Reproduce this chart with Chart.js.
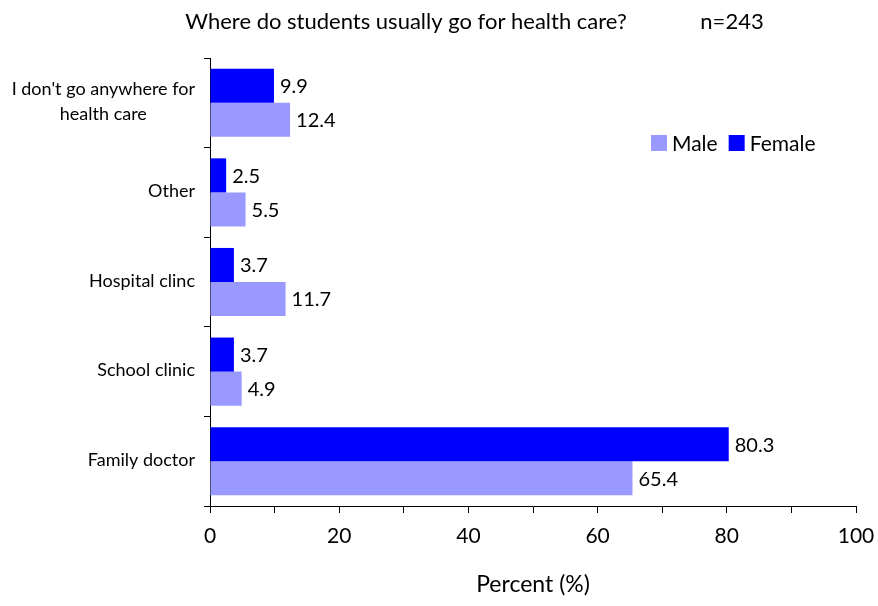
<!DOCTYPE html>
<html lang="en">
<head>
    <meta charset="UTF-8">
    <title>Health care</title>
    <script src="https://cdn.jsdelivr.net/npm/chart.js"></script>
    <style>
        body { margin: 0; padding: 0; background: #fff; }
        #wrap { width: 878px; height: 606px; position: relative; }
    </style>
</head>
<body>
    <div id="wrap"><canvas id="chart"></canvas></div>

    <script>
        // Data
        const categories = [
            ["I don't go anywhere for", "health care"],
            "Other",
            "Hospital clinc",
            "School clinic",
            "Family doctor"
        ];
        const femaleValues = [9.9, 2.5, 3.7, 3.7, 80.3];
        const maleValues = [12.4, 5.5, 11.7, 4.9, 65.4];
        const xTicks = [0, 20, 40, 60, 80, 100];

        const FONT = "Lato, 'Open Sans', sans-serif";

        // Bar value labels
        const valueLabels = {
            id: 'valueLabels',
            afterDatasetsDraw(chart) {
                const ctx = chart.ctx;
                ctx.save();
                ctx.font = "20px " + FONT;
                ctx.fillStyle = "#000";
                ctx.textBaseline = "middle";
                ctx.textAlign = "left";
                chart.data.datasets.forEach((ds, i) => {
                    chart.getDatasetMeta(i).data.forEach((bar, j) => {
                        ctx.fillText(ds.data[j].toFixed(1), bar.x + 6, bar.y + 1);
                    });
                });
                ctx.restore();
            }
        };

        // Category labels: right aligned block, lines centred inside it
        const catLabels = {
            id: 'catLabels',
            afterDraw(chart) {
                const ctx = chart.ctx;
                const yScale = chart.scales.y;
                const right = yScale.right - 15;
                ctx.save();
                ctx.font = "18px " + FONT;
                ctx.fillStyle = "#000";
                ctx.textBaseline = "middle";
                ctx.textAlign = "center";
                categories.forEach((lab, i) => {
                    const lines = Array.isArray(lab) ? lab : [lab];
                    const w = Math.max(...lines.map(l => ctx.measureText(l).width));
                    const cx = right - w / 2;
                    const cy = yScale.getPixelForTick(i);
                    const lh = 25;
                    lines.forEach((l, k) => {
                        ctx.fillText(l, cx, cy + (k - (lines.length - 1) / 2) * lh - 1);
                    });
                });
                ctx.restore();
            }
        };

        // Title and legend drawn by hand
        const extras = {
            id: 'extras',
            afterDraw(chart) {
                const ctx = chart.ctx;
                ctx.save();
                ctx.fillStyle = "#000";
                ctx.textBaseline = "middle";
                ctx.font = "22px " + FONT;
                ctx.textAlign = "center";
                ctx.fillText("Where do students usually go for health care?", 406, 22);
                ctx.fillText("n=243", 732, 22);

                // legend: Male then Female
                const items = [chart.data.datasets[1], chart.data.datasets[0]];
                let x = 651;
                ctx.font = "21px " + FONT;
                ctx.textAlign = "left";
                items.forEach(ds => {
                    ctx.fillStyle = ds.backgroundColor;
                    ctx.fillRect(x, 135, 16, 16);
                    ctx.fillStyle = "#000";
                    ctx.fillText(ds.label, x + 21, 144);
                    x += 21 + ctx.measureText(ds.label).width + 11;
                });
                ctx.restore();
            }
        };

        new Chart(document.getElementById("chart"), {
            type: 'bar',
            data: {
                labels: categories,
                datasets: [
                    {
                        label: 'Female',
                        data: femaleValues,
                        backgroundColor: '#0000FF',
                        categoryPercentage: 0.76,
                        barPercentage: 1.0
                    },
                    {
                        label: 'Male',
                        data: maleValues,
                        backgroundColor: '#9999FF',
                        categoryPercentage: 0.76,
                        barPercentage: 1.0
                    }
                ]
            },
            options: {
                indexAxis: 'y',
                responsive: true,
                maintainAspectRatio: false,
                animation: false,
                layout: { padding: { top: 58, right: 22, left: 0, bottom: 0 } },
                plugins: {
                    legend: { display: false },
                    title: { display: false },
                    tooltip: { enabled: false }
                },
                scales: {
                    x: {
                        min: 0,
                        max: 100,
                        ticks: {
                            stepSize: 10,
                            autoSkip: false,
                            maxRotation: 0,
                            color: '#000',
                            font: { family: FONT, size: 21 },
                            padding: 11,
                            callback: v => xTicks.includes(v) ? v : ''
                        },
                        grid: {
                            drawOnChartArea: false,
                            drawTicks: true,
                            tickLength: 7,
                            color: '#000'
                        },
                        border: { color: '#000', width: 1 },
                        title: {
                            display: true,
                            text: 'Percent (%)',
                            color: '#000',
                            font: { family: FONT, size: 23 },
                            padding: { top: 10, bottom: 8 }
                        },
                        afterFit: s => {
                            s.height = 100;
                            s.paddingRight = 0;
                            s.paddingLeft = 0;
                        }
                    },
                    y: {
                        ticks: { display: false },
                        grid: {
                            drawOnChartArea: false,
                            drawTicks: true,
                            tickLength: 6,
                            color: '#000',
                            offset: true
                        },
                        border: { color: '#000', width: 1 },
                        afterFit: s => { s.width = 210; }
                    }
                }
            },
            plugins: [valueLabels, catLabels, extras]
        });
    </script>
</body>
</html>
